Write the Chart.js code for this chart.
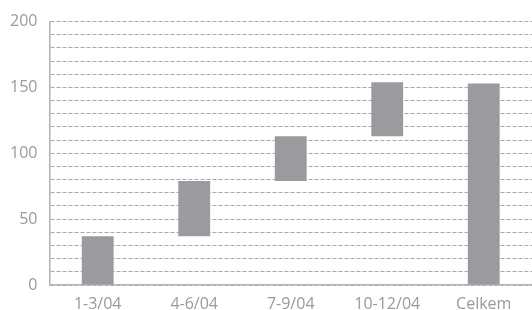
<!DOCTYPE html>
<html>
<head>
<meta charset="utf-8">
<script src="https://cdn.jsdelivr.net/npm/chart.js@4"></script>
<style>
    html, body { margin: 0; padding: 0; background: #fff; }
    #chart { display: block; }
</style>
</head>
<body>
<canvas id="chart" width="532" height="310"></canvas>
<script>
const periods = ['1-3/04', '4-6/04', '7-9/04', '10-12/04', 'Celkem'];
const barStart = [0, 37, 79, 113, 0];
const barEnd = [37, 79, 113, 154, 153];
const yLabelled = [0, 50, 100, 150, 200];

const gridGrey = '#a8a8a8';
const textGrey = '#9a9a9a';

const ranges = periods.map((p, i) => [barStart[i], barEnd[i]]);

new Chart(document.getElementById('chart'), {
    type: 'bar',
    data: {
        labels: periods,
        datasets: [{
            data: ranges,
            backgroundColor: '#9b9b9f',
            borderWidth: 0,
            barPercentage: 0.33,
            categoryPercentage: 1
        }]
    },
    options: {
        responsive: false,
        animation: false,
        layout: { padding: { top: 12, right: -6, left: -2, bottom: -13 } },
        plugins: {
            legend: { display: false },
            tooltip: { enabled: false }
        },
        scales: {
            x: {
                grid: { display: false, drawTicks: false },
                border: { color: '#b4b4b4', width: 1.5 },
                ticks: {
                    color: textGrey,
                    font: { family: 'Open Sans', size: 16, lineHeight: 1 },
                    padding: 11
                }
            },
            y: {
                min: 0,
                max: 200,
                grid: {
                    color: gridGrey,
                    lineWidth: 1,
                    drawTicks: false
                },
                border: { color: '#b4b4b4', width: 1.5, dash: [4, 2] },
                ticks: {
                    stepSize: 10,
                    autoSkip: false,
                    color: textGrey,
                    font: { family: 'Open Sans', size: 16 },
                    padding: 12,
                    callback: v => yLabelled.includes(v) ? v : ''
                }
            }
        }
    }
});
</script>
</body>
</html>
